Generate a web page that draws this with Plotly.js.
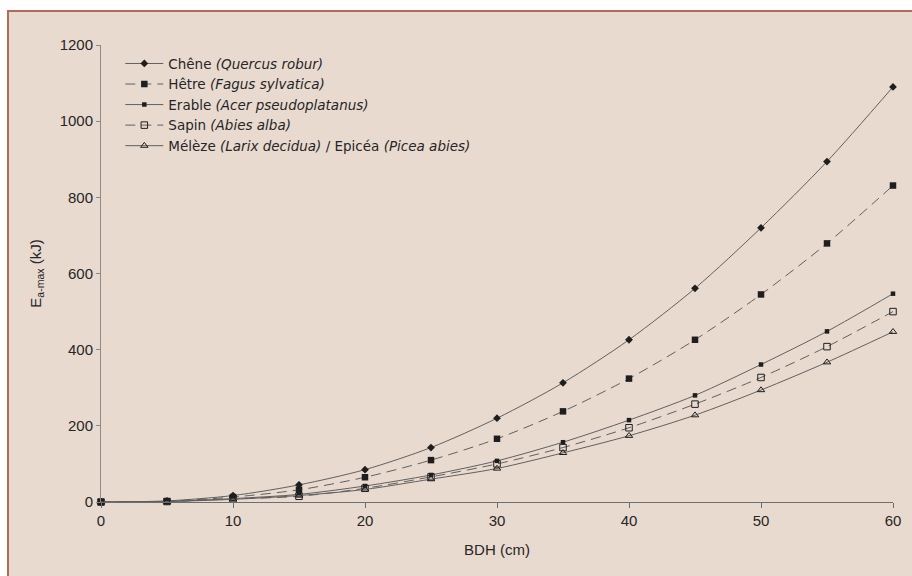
<!DOCTYPE html>
<html>
<head>
<meta charset="utf-8">
<script src="https://cdn.plot.ly/plotly-3.0.1.min.js"></script>
<style>
  html, body { margin: 0; padding: 0; background: #ffffff; }
  #frame { position: absolute; left: 7px; top: 10px; width: 910px; height: 570px;
           background: #E9DAD0; border-top: 2px solid #B26A5B; border-left: 2px solid #B26A5B; }
  #chart { position: absolute; left: 0; top: 0; width: 912px; height: 576px; }
</style>
</head>
<body>
<div id="frame"></div>
<div id="chart"></div>
<script>
const dbh = [0, 5, 10, 15, 20, 25, 30, 35, 40, 45, 50, 55, 60];
const chene  = [0, 3, 17, 45, 85, 143, 220, 313, 426, 561, 720, 894, 1090];
const hetre  = [0, 2, 13, 32, 65, 110, 166, 238, 324, 426, 545, 679, 831];
const erable = [0, 1.5, 9, 20, 42, 71, 108, 157, 215, 280, 361, 448, 547];
const sapin  = [0, 1.3, 8, 15, 36, 66, 100, 143, 195, 257, 327, 408, 500];
const meleze = [0, 1.2, 7, 17, 33, 60, 88, 129, 174, 228, 294, 367, 447];

const names = [
  'Chêne <i>(Quercus robur)</i>',
  'Hêtre <i>(Fagus sylvatica)</i>',
  'Erable <i>(Acer pseudoplatanus)</i>',
  'Sapin <i>(Abies alba)</i>',
  'Mélèze <i>(Larix decidua)</i> / Epicéa <i>(Picea abies)</i>'
];
const series = [chene, hetre, erable, sapin, meleze];
const dashes = ['solid', '10px,6px', 'solid', '10px,6px', 'solid'];
const symbols = ['diamond', 'square', 'square', 'square-open', 'triangle-up-open'];
const sizes = [6, 6.5, 4.5, 6.5, 6.5];

const lineColor = '#606060';
const traces = series.map((ys, i) => ({
  type: 'scatter',
  mode: 'lines+markers',
  x: dbh,
  y: ys,
  name: names[i],
  cliponaxis: false,
  line: { color: lineColor, width: 1, dash: dashes[i], shape: 'spline', smoothing: 0.8 },
  marker: { symbol: symbols[i], size: sizes[i], color: '#1e1e1e',
            line: { color: '#2a2a2a', width: symbols[i].endsWith('open') ? 1 : 0 } }
}));

const tickFont = { family: 'Liberation Sans, Arial, sans-serif', size: 15, color: '#262626' };

const layout = {
  width: 912, height: 576,
  paper_bgcolor: 'rgba(0,0,0,0)',
  plot_bgcolor: 'rgba(0,0,0,0)',
  margin: { l: 101, r: 19, t: 45, b: 74, pad: 0 },
  showlegend: true,
  legend: {
    x: 0.0244, y: 0.993, xanchor: 'left', yanchor: 'top',
    bgcolor: 'rgba(0,0,0,0)',
    itemwidth: 38,
    font: { family: 'DejaVu Sans, Open Sans, sans-serif', size: 13.5, color: '#262626' },
    tracegroupgap: 0
  },
  xaxis: {
    range: [0, 60], dtick: 10, tick0: 0,
    showgrid: false, zeroline: false,
    showline: true, linecolor: '#6e6e6e', linewidth: 1,
    ticks: 'outside', ticklen: 5, tickcolor: '#6e6e6e',
    tickfont: tickFont,
    title: { text: 'BDH (cm)', font: tickFont, standoff: 16 }
  },
  yaxis: {
    range: [0, 1200], dtick: 200, tick0: 0,
    showgrid: false, zeroline: false,
    showline: true, linecolor: '#8a8a8a', linewidth: 1,
    ticks: 'outside', ticklen: 4, tickcolor: '#8a8a8a',
    tickfont: tickFont,
    title: { text: 'E<sub>a-max</sub> (kJ)', font: tickFont, standoff: 14 }
  }
};

Plotly.newPlot('chart', traces, layout, { displayModeBar: false, staticPlot: true });
</script>
</body>
</html>
